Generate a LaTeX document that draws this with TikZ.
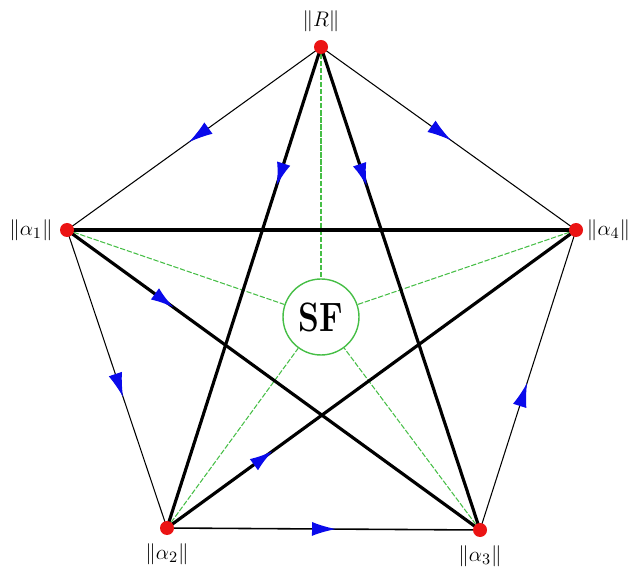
\documentclass[tikz,border=0pt]{standalone}
\usepackage{amsmath}
\usepackage{tikz}
\usetikzlibrary{arrows.meta,positioning,decorations.markings}
\definecolor{sfgreen}{RGB}{70,190,70}
\definecolor{dotred}{RGB}{235,20,20}
\definecolor{arrblue}{RGB}{10,10,235}
\tikzset{
  fin/.style={line width=0.6pt, draw=black},
  epais/.style={line width=1.8pt, draw=black},
  lienSF/.style={line width=0.6pt, draw=sfgreen, dash pattern=on 3pt off 1pt},
  fleche/.style={postaction={decorate}, decoration={markings,
                 mark=at position #1 with {\arrow{Latex[length=4.8mm, width=2.8mm, color=arrblue]}}}},
  sommet/.style={circle, fill=dotred, inner sep=0pt, minimum size=0.28cm},
  etiq/.style={font=\fontsize{13}{15}\selectfont, inner sep=1pt},
}
\begin{document}
\begin{tikzpicture}[x=0.02cm, y=-0.02cm]
    \useasboundingbox (0,0) rectangle (631,573);
    % sommets
    \coordinate (R) at (321,47);
    \coordinate (a1) at (67,230);
    \coordinate (a4) at (576,230);
    \coordinate (a2) at (167,528);
    \coordinate (a3) at (480,530);
    \node[circle, draw=sfgreen, line width=0.8pt, minimum size=1.52cm, inner sep=0pt] (sf) at (321,317)
      {\scalebox{1.1}[1.35]{\LARGE\bfseries SF}};
    % liens vers SF
    \foreach \v in {R,a1,a2,a3,a4}
      \draw[lienSF] (\v) -- (sf);
    % pentagone
    \draw[fin, fleche=0.52] (R) -- (a1);
    \draw[fin, fleche=0.51] (R) -- (a4);
    \draw[fin, fleche=0.56] (a1) -- (a2);
    \draw[line width=0.9pt, fleche=0.54] (a2) -- (a3);
    \draw[fin, fleche=0.49] (a3) -- (a4);
    % etoile
    \draw[epais, fleche=0.29] (R) -- (a2);
    \draw[epais, fleche=0.29] (R) -- (a3);
    \draw[epais] (a1) -- (a4);
    \draw[epais, fleche=0.26] (a1) -- (a3);
    \draw[epais, fleche=0.26] (a2) -- (a4);
    % points
    \node[sommet] (dR) at (R) {};
    \node[sommet] (d1) at (a1) {};
    \node[sommet] (d4) at (a4) {};
    \node[sommet] (d2) at (a2) {};
    \node[sommet] (d3) at (a3) {};
    \node[etiq, above=1.2mm of dR] (lR) {$\|R\|$};
    \node[etiq, left=1mm of d1] (l1) {$\|\alpha_1\|$};
    \node[etiq, right=0.3mm of d4] (l4) {$\|\alpha_4\|$};
    \node[etiq, below=1.2mm of d2] (l2) {$\|\alpha_2\|$};
    \node[etiq, below=1.2mm of d3] (l3) {$\|\alpha_3\|$};
\end{tikzpicture}
\end{document}
